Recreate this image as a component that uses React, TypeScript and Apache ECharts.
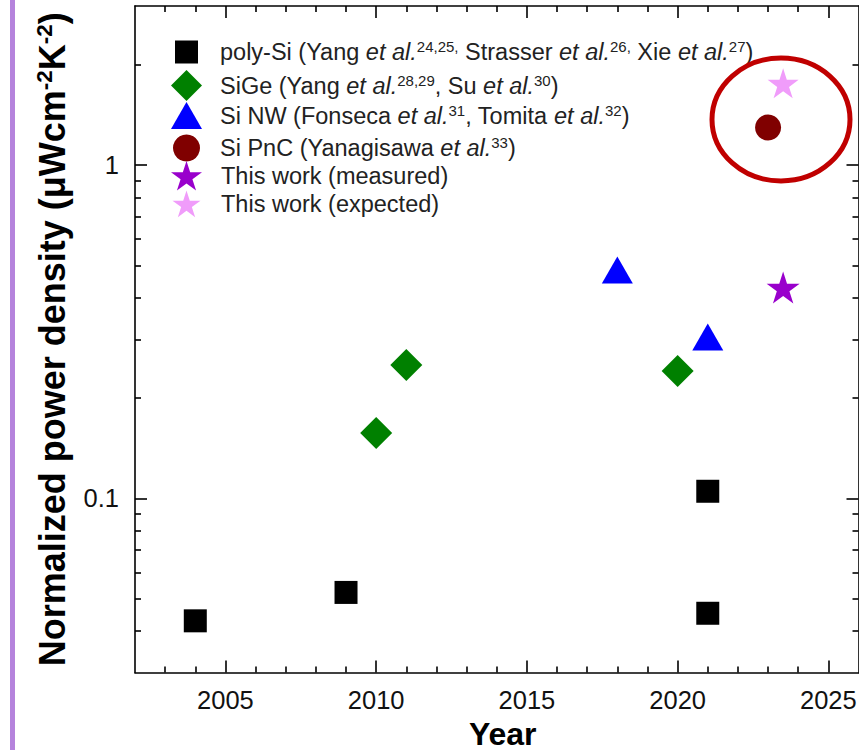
import React, { useEffect, useRef } from "react";
import * as echarts from "echarts";

// ---- data ----
const polySiYears = [2004, 2009, 2021, 2021];
const polySiValues = [0.0429, 0.0522, 0.105, 0.0452];
const siGeYears = [2010, 2011, 2020];
const siGeValues = [0.157, 0.251, 0.241];
const siNwYears = [2018, 2021];
const siNwValues = [0.484, 0.305];
const siPncYears = [2023];
const siPncValues = [1.296];
const measuredYears = [2023.5];
const measuredValues = [0.429];
const expectedYears = [2023.5];
const expectedValues = [1.758];

const seriesNames = [
  "poly-Si",
  "SiGe",
  "Si NW",
  "Si PnC",
  "This work (measured)",
  "This work (expected)",
];
const legendLabels = [
  "poly-Si (Yang {i|et al.}{sup|24,25,} Strasser {i|et al.}{sup|26,} Xie {i|et al.}{sup|27})",
  "SiGe (Yang {i|et al.}{sup|28,29}, Su {i|et al.}{sup|30})",
  "Si NW (Fonseca {i|et al.}{sup|31}, Tomita {i|et al.}{sup|32})",
  "Si PnC (Yanagisawa {i|et al.}{sup|33})",
  "This work (measured)",
  "This work (expected)",
];

const xMajorTicks = [2005, 2010, 2015, 2020, 2025];
const xMinorTicks = [
  2003, 2004, 2006, 2007, 2008, 2009, 2011, 2012, 2013, 2014, 2016, 2017,
  2018, 2019, 2021, 2022, 2023, 2024,
];
const yMajorTicks = [0.1, 1];
const yMinorTicks = [
  0.04, 0.05, 0.06, 0.07, 0.08, 0.09, 0.2, 0.3, 0.4, 0.5, 0.6, 0.7, 0.8, 0.9,
  2,
];
const xMin = 2002;
const xMax = 2026;
const yMin = 0.03;
const yMax = 3;

function starPath(): string {
  const pts: string[] = [];
  for (let i = 0; i < 10; i++) {
    const a = ((-90 + i * 36) * Math.PI) / 180;
    const r = i % 2 === 0 ? 50 : 19.1;
    pts.push(`${(r * Math.cos(a)).toFixed(2)} ${(r * Math.sin(a)).toFixed(2)}`);
  }
  return "path://M" + pts.join(" L") + " Z";
}

const FONT = "Liberation Sans, Arial, Helvetica, sans-serif";

export default function App() {
  const ref = useRef<HTMLDivElement>(null);
  useEffect(() => {
    if (!ref.current) return;
    const chart = echarts.init(ref.current, null, { renderer: "svg" });
    const star = starPath();
    const zip = (xs: number[], ys: number[]) => xs.map((x, i) => [x, ys[i]]);

    const gridRect = { left: 135, right: 0.5, top: 6, bottom: 77.4, outerBoundsMode: "none", containLabel: false };
    const lineStyle = { color: "#000", width: 1.6 };
    const labelStyle = { fontSize: 25.5, color: "#111", fontFamily: FONT };

    const legendText = {
      fontSize: 23.5,
      lineHeight: 26,
      color: "#222",
      fontFamily: FONT,
      rich: {
        i: { fontStyle: "italic", fontSize: 23.5, lineHeight: 26, color: "#222", fontFamily: FONT },
        sup: { fontSize: 15, lineHeight: 15, verticalAlign: "top", color: "#222", fontFamily: FONT },
      },
    };
    const legendItems = [
      { w: 23, h: 23, left: 175, top: 39, pad: 17 },
      { w: 31, h: 31, left: 171, top: 70, pad: 13 },
      { w: 31, h: 27, left: 171, top: 102, pad: 13 },
      { w: 27, h: 27, left: 173, top: 134.5, pad: 15 },
      { w: 31, h: 30, left: 171, top: 161, pad: 14 },
      { w: 28, h: 27, left: 172.5, top: 190.5, pad: 15.5 },
    ];
    const legends = legendItems.map((it, i) => ({
      data: [seriesNames[i]],
      left: it.left,
      top: it.top,
      padding: 0,
      itemWidth: it.w,
      itemHeight: it.h,
      selectedMode: false,
      formatter: () => legendLabels[i],
      textStyle: { ...legendText, padding: [0, 0, 0, it.pad] },
    }));

    const xAxisBase = {
      type: "value",
      min: xMin,
      max: xMax,
      splitLine: { show: false },
    };
    const yAxisBase = {
      type: "log",
      logBase: 10,
      min: yMin,
      max: yMax,
      splitLine: { show: false },
    };

    chart.setOption({
      animation: false,
      backgroundColor: "#fff",
      graphic: [
        { type: "rect", shape: { x: 10, y: 0, width: 5, height: 750 }, style: { fill: "#b583dc" } },
        {
          type: "ellipse",
          z: 100,
          shape: { cx: 781, cy: 119.5, rx: 69, ry: 61.5 },
          style: { fill: "none", stroke: "#c00000", lineWidth: 5 },
        },
      ],
      grid: [{ ...gridRect }, { ...gridRect }],
      legend: legends,
      xAxis: [
        {
          ...xAxisBase,
          gridIndex: 0,
          position: "bottom",
          axisLine: { show: true, lineStyle },
          axisTick: { show: true, inside: true, length: 12, customValues: xMajorTicks, lineStyle },
          axisLabel: {
            show: true,
            margin: 14,
            customValues: xMajorTicks,
            formatter: (v: number) => String(Math.round(v)),
            ...labelStyle,
          },
          name: "Year",
          nameLocation: "middle",
          nameGap: 45,
          nameTextStyle: {
            fontSize: 32,
            lineHeight: 30,
            fontWeight: "bold",
            color: "#000",
            fontFamily: FONT,
            padding: [0, 0, 0, 12],
          },
        },
        {
          ...xAxisBase,
          gridIndex: 0,
          position: "top",
          axisLine: { show: true, lineStyle },
          axisTick: { show: true, inside: true, length: 12, customValues: xMajorTicks, lineStyle },
          axisLabel: { show: false },
        },
        {
          ...xAxisBase,
          gridIndex: 1,
          position: "bottom",
          axisLine: { show: false },
          axisTick: { show: true, inside: true, length: 6, customValues: xMinorTicks, lineStyle },
          axisLabel: { show: false },
        },
        {
          ...xAxisBase,
          gridIndex: 1,
          position: "top",
          axisLine: { show: false },
          axisTick: { show: true, inside: true, length: 6, customValues: xMinorTicks, lineStyle },
          axisLabel: { show: false },
        },
      ],
      yAxis: [
        {
          ...yAxisBase,
          gridIndex: 0,
          position: "left",
          axisLine: { show: true, lineStyle },
          axisTick: { show: true, inside: true, length: 12, customValues: yMajorTicks, lineStyle },
          axisLabel: {
            show: true,
            margin: 16,
            customValues: yMajorTicks,
            formatter: (v: number) => String(Number(v.toPrecision(3))),
            ...labelStyle,
          },
          name: "Normalized power density (μWcm{sup|-2}K{sup|-2})",
          nameLocation: "middle",
          nameRotate: 90,
          nameGap: 54,
          nameTextStyle: {
            fontSize: 36,
            fontWeight: "bold",
            color: "#000",
            fontFamily: FONT,
            lineHeight: 40,
            rich: {
              sup: { fontSize: 22.5, fontWeight: "bold", lineHeight: 22, verticalAlign: "top", color: "#000", fontFamily: FONT },
            },
          },
        },
        {
          ...yAxisBase,
          gridIndex: 0,
          position: "right",
          axisLine: { show: true, lineStyle },
          axisTick: { show: true, inside: true, length: 12, customValues: yMajorTicks, lineStyle },
          axisLabel: { show: false },
        },
        {
          ...yAxisBase,
          gridIndex: 1,
          position: "left",
          axisLine: { show: false },
          axisTick: { show: true, inside: true, length: 6, customValues: yMinorTicks, lineStyle },
          axisLabel: { show: false },
        },
        {
          ...yAxisBase,
          gridIndex: 1,
          position: "right",
          axisLine: { show: false },
          axisTick: { show: true, inside: true, length: 6, customValues: yMinorTicks, lineStyle },
          axisLabel: { show: false },
        },
      ],
      series: [
        {
          name: seriesNames[0], type: "scatter", xAxisIndex: 0, yAxisIndex: 0,
          symbol: "rect", symbolSize: 23, itemStyle: { color: "#000000", opacity: 1 },
          data: zip(polySiYears, polySiValues),
        },
        {
          name: seriesNames[1], type: "scatter", xAxisIndex: 0, yAxisIndex: 0,
          symbol: "diamond", symbolSize: [32, 32], itemStyle: { color: "#008000", opacity: 1 },
          data: zip(siGeYears, siGeValues),
        },
        {
          name: seriesNames[2], type: "scatter", xAxisIndex: 0, yAxisIndex: 0,
          symbol: "triangle", symbolSize: [31, 27], itemStyle: { color: "#0000ff", opacity: 1 },
          data: zip(siNwYears, siNwValues),
        },
        {
          name: seriesNames[3], type: "scatter", xAxisIndex: 0, yAxisIndex: 0,
          symbol: "circle", symbolSize: 26, itemStyle: { color: "#800000", opacity: 1 },
          data: zip(siPncYears, siPncValues),
        },
        {
          name: seriesNames[4], type: "scatter", xAxisIndex: 0, yAxisIndex: 0,
          symbol: star, symbolSize: [33, 32], itemStyle: { color: "#9900cc", opacity: 1 },
          data: zip(measuredYears, measuredValues),
        },
        {
          name: seriesNames[5], type: "scatter", xAxisIndex: 0, yAxisIndex: 0,
          symbol: star, symbolSize: [31, 30], itemStyle: { color: "#f09cfa", opacity: 1 },
          data: zip(expectedYears, expectedValues),
        },
      ],
    });
    return () => chart.dispose();
  }, []);

  return (
    <div
      ref={ref}
      style={{ position: "fixed", left: 0, top: 0, width: 859, height: 750, background: "#fff" }}
    />
  );
}
